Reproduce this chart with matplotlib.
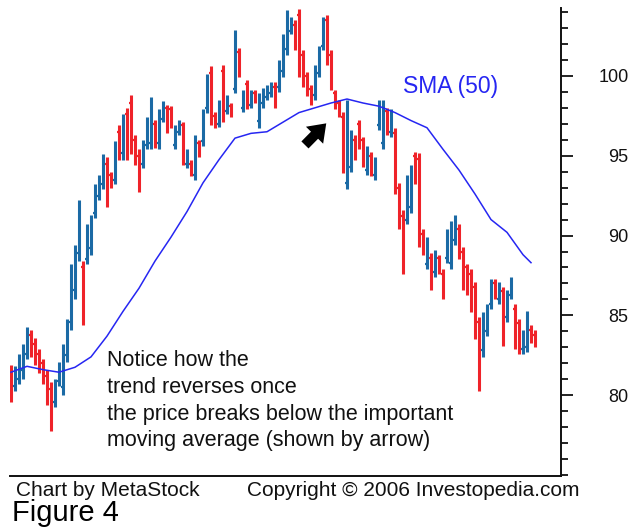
import matplotlib
matplotlib.use("Agg")
import matplotlib.pyplot as plt
from matplotlib.patches import FancyArrowPatch
from matplotlib.ticker import FixedLocator, MultipleLocator

# daily bars (left to right)
high = [81.9, 81.8, 82.6, 83.2, 84.25, 84.1, 83.6, 82.9, 82.25, 81.6,
        80.8, 81.0, 82.1, 83.2, 84.75, 88.2, 89.4, 92.25, 88.4, 90.7,
        91.3, 93.2, 93.8, 95.1, 94.9, 94.0, 95.9, 96.9, 97.6, 98.0,
        98.8, 96.3, 95.4, 96.0, 97.4, 98.7, 97.25, 97.9, 98.4, 98.2,
        98.1, 96.9, 97.25, 97.1, 95.4, 94.75, 96.3, 96.0, 97.9, 100.1,
        100.6, 97.75, 98.5, 100.7, 98.8, 98.3, 102.9, 101.75, 99.1, 99.75,
        99.1, 99.1, 98.9, 99.25, 99.4, 99.6, 99.6, 101.0, 102.6, 104.1,
        103.7, 103.5, 104.2, 101.6, 100.25, 99.4, 100.7, 101.9, 103.7, 103.8,
        101.6, 99.1, 98.5, 97.75, 98.5, 96.6, 96.3, 97.25, 96.2, 95.6,
        95.25, 94.9, 98.5, 98.5, 98.0, 97.9, 96.75, 93.3, 91.6, 93.8,
        94.4, 95.25, 95.2, 90.4, 89.9, 88.9, 89.1, 88.8, 87.9, 90.4,
        90.9, 91.3, 90.7, 89.3, 88.2, 87.9, 87.1, 84.9, 85.2, 85.7,
        87.25, 87.25, 87.1, 86.75, 86.6, 87.4, 85.7, 84.75, 84.1, 85.25,
        84.4, 84.1]
low = [79.6, 80.25, 80.7, 81.0, 82.25, 82.4, 81.9, 81.4, 80.7, 79.4,
       77.75, 79.25, 80.6, 80.0, 82.1, 84.1, 86.0, 88.4, 84.4, 88.2,
       88.8, 91.1, 92.25, 92.9, 91.8, 93.0, 93.2, 94.75, 94.75, 94.75,
       95.1, 94.4, 92.7, 94.25, 95.4, 95.4, 95.5, 95.4, 97.1, 96.4,
       96.75, 95.4, 96.3, 94.4, 94.25, 93.7, 93.5, 94.9, 95.6, 97.7,
       96.9, 96.75, 96.8, 97.1, 97.6, 97.4, 98.9, 99.9, 97.75, 97.9,
       98.0, 98.3, 96.75, 98.0, 98.5, 98.7, 98.0, 99.0, 99.9, 101.3,
       102.6, 101.6, 99.9, 99.3, 98.75, 98.2, 98.5, 99.9, 101.6, 100.7,
       99.1, 97.9, 97.4, 93.9, 92.9, 94.0, 94.75, 95.4, 94.3, 93.8,
       93.7, 93.5, 96.6, 95.4, 96.3, 96.2, 92.6, 90.4, 87.6, 90.7,
       91.4, 93.2, 89.3, 88.8, 87.9, 86.6, 87.4, 87.6, 86.0, 88.3,
       87.9, 89.4, 88.5, 86.6, 86.3, 85.2, 83.5, 80.25, 82.4, 83.7,
       85.4, 86.0, 85.7, 83.1, 84.6, 86.0, 82.9, 82.6, 82.6, 82.7,
       83.3, 83.0]
open_ = [81.5, 80.6, 81.0, 81.6, 82.6, 83.8, 83.2, 82.6, 82.0, 81.2,
         80.4, 79.6, 80.9, 80.5, 82.5, 84.6, 86.6, 88.9, 88.0, 88.5,
         89.2, 91.4, 92.5, 93.2, 94.5, 93.8, 93.5, 96.5, 95.2, 97.6,
         98.3, 96.0, 95.0, 94.5, 95.7, 95.8, 97.0, 95.8, 97.3, 98.0,
         97.9, 95.7, 96.5, 96.9, 94.5, 94.5, 93.8, 95.8, 95.9, 98.0,
         100.2, 97.5, 97.0, 100.3, 97.8, 98.1, 99.2, 101.5, 98.0, 99.5,
         98.2, 98.9, 97.2, 98.3, 98.7, 98.9, 99.3, 99.3, 100.3, 101.7,
         102.8, 103.2, 103.8, 101.3, 100.0, 99.2, 98.8, 100.2, 101.9, 103.5,
         101.3, 98.9, 98.3, 97.4, 93.3, 94.3, 96.0, 97.0, 96.0, 94.1,
         95.0, 93.8, 96.9, 95.8, 97.8, 96.5, 96.4, 93.0, 91.2, 91.0,
         91.8, 95.0, 94.8, 90.1, 88.2, 88.6, 87.7, 88.6, 87.6, 88.6,
         88.3, 89.7, 90.4, 89.0, 88.0, 87.6, 86.8, 84.6, 82.8, 84.0,
         85.7, 87.0, 86.0, 86.5, 84.9, 86.3, 85.4, 84.5, 82.9, 83.0,
         84.1, 83.8]
close = [80.2, 81.5, 82.2, 82.9, 83.9, 82.8, 82.3, 81.8, 81.0, 79.8,
         78.2, 80.7, 81.8, 82.8, 84.4, 87.6, 89.0, 91.6, 85.2, 90.3,
         91.0, 92.9, 93.5, 94.7, 92.4, 93.2, 95.5, 95.2, 97.2, 95.3,
         95.6, 94.8, 93.2, 95.7, 97.0, 98.2, 95.9, 97.5, 98.1, 96.8,
         97.0, 96.6, 97.0, 94.8, 95.2, 93.9, 96.0, 95.1, 97.6, 99.8,
         97.3, 97.0, 98.2, 97.5, 98.6, 97.6, 102.5, 100.2, 98.9, 98.2,
         98.9, 98.5, 98.6, 99.0, 99.2, 99.4, 98.3, 100.7, 102.2, 103.7,
         103.4, 101.9, 100.3, 99.6, 99.0, 98.4, 100.4, 101.6, 103.4, 101.0,
         99.4, 98.1, 97.6, 94.3, 96.0, 96.2, 95.0, 95.7, 94.6, 95.3,
         94.0, 94.6, 98.2, 98.0, 96.6, 97.6, 93.0, 90.8, 88.0, 93.4,
         94.0, 93.5, 89.8, 89.1, 89.6, 87.0, 88.8, 87.9, 86.4, 90.0,
         90.5, 91.0, 88.8, 87.0, 86.6, 85.6, 83.9, 80.8, 84.9, 85.4,
         87.0, 86.3, 86.8, 83.5, 86.3, 87.1, 83.3, 83.0, 83.8, 84.9,
         83.6, 83.3]

# 50-day simple moving average, read every 4 bars
sma_bar = [0, 4, 8, 12, 16, 20, 24, 28, 32, 36, 40, 44, 48, 52, 56, 60, 64,
           68, 72, 76, 80, 84, 88, 92, 96, 100, 104, 108, 112, 116, 120, 124,
           128, 130]
sma_val = [81.44, 81.81, 81.6, 81.44, 81.75, 82.4, 83.7, 85.25, 86.7, 88.4,
           89.9, 91.5, 93.3, 94.75, 96.1, 96.4, 96.5, 97.1, 97.7, 98.0, 98.3,
           98.55, 98.3, 98.1, 97.7, 97.2, 96.75, 95.4, 94.1, 92.6, 91.0, 90.2,
           88.8, 88.3]

price_ticks = [80, 85, 90, 95, 100]

UP = "#1b6aa5"
DOWN = "#ef2329"
SMA_COLOR = "#2626f2"
FONT = "Liberation Sans"

W, H = 631, 531
fig = plt.figure(figsize=(W / 100, H / 100), dpi=100)
ax = fig.add_axes([10 / W, 1 - 476 / H, (561 - 10) / W, (476 - 8) / H])

bars = list(range(len(high)))
colors = [UP if c >= o else DOWN for o, c in zip(open_, close)]
ax.vlines(bars, low, high, colors=colors, lw=2.2)
ax.hlines(open_, [b - 0.5 for b in bars], bars, colors=colors, lw=1.6)
ax.hlines(close, bars, [b + 0.5 for b in bars], colors=colors, lw=1.6)
ax.plot(sma_bar, sma_val, color=SMA_COLOR, lw=1.1)

ax.set_xlim(-0.25, 137.5)
ax.set_ylim(74.94, 104.25)
ax.set_xticks([])

for side in ["top", "left"]:
    ax.spines[side].set_visible(False)
for side in ["bottom", "right"]:
    ax.spines[side].set_linewidth(1.4)
    ax.spines[side].set_color("#111111")

ax.yaxis.tick_right()
ax.yaxis.set_major_locator(FixedLocator(price_ticks))
ax.yaxis.set_minor_locator(MultipleLocator(1))
ax.tick_params(axis="y", which="major", direction="out", length=8.6, width=1.3,
               pad=40, labelsize=13, colors="#111111")
ax.tick_params(axis="y", which="minor", direction="out", length=5, width=1.3,
               colors="#111111")
for lbl in ax.get_yticklabels():
    lbl.set_horizontalalignment("right")
    lbl.set_fontfamily(FONT)

fig.text(403 / W, 1 - 86 / H, "SMA (50)", color=SMA_COLOR,
         fontsize=16.5, family=FONT, va="center", ha="left")

arrow = FancyArrowPatch((73.0, 95.55), (79.3, 97.15),
                        arrowstyle="simple,head_length=1.0,head_width=1.45,tail_width=0.6",
                        mutation_scale=12, color="black", lw=0)
ax.add_patch(arrow)

note = ("Notice how the\ntrend reverses once\n"
        "the price breaks below the important\nmoving average (shown by arrow)")
fig.text(107 / W, 1 - 350 / H, note, fontsize=15.5, family=FONT,
         color="#111111", va="top", ha="left", linespacing=1.36)

fig.text(16 / W, 1 - 490 / H, "Chart by MetaStock", fontsize=15, family=FONT,
         color="#111111", va="center", ha="left")
fig.text(247 / W, 1 - 490 / H, "Copyright \u00a9 2006 Investopedia.com",
         fontsize=15, family=FONT, color="#111111", va="center", ha="left")
fig.text(12 / W, 1 - 513 / H, "Figure 4", fontsize=21, family=FONT,
         color="#000000", va="center", ha="left")

fig.savefig("out.png", dpi=100)
